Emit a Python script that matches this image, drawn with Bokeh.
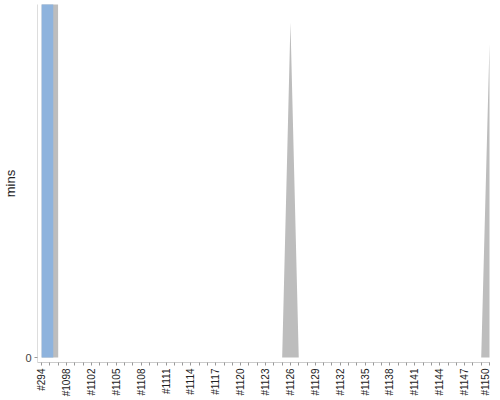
import math
from bokeh.plotting import figure
from bokeh.models import ColumnDataSource, FixedTicker, Range1d
from bokeh.embed import file_html
from bokeh.resources import INLINE

categories = ["#294", "#1095", "#1096", "#1098", "#1099", "#1101",
              "#1102", "#1103", "#1104", "#1105", "#1106", "#1107", "#1108",
              "#1109", "#1110", "#1111", "#1112", "#1113", "#1114", "#1115",
              "#1116", "#1117", "#1118", "#1119", "#1120", "#1121", "#1122",
              "#1123", "#1124", "#1125", "#1126", "#1127", "#1128", "#1129",
              "#1130", "#1131", "#1132", "#1133", "#1134", "#1135", "#1136",
              "#1137", "#1138", "#1139", "#1140", "#1141", "#1142", "#1143",
              "#1144", "#1145", "#1146", "#1147", "#1148", "#1149", "#1150"]

# total minutes (grey area) per build
total_mins = [5000, 5000] + [0] * 28 + [95] + [0] * 23 + [89]
# blue bar series
bar_mins = [5000] + [0] * 54

label_every = 3

idx = list(range(len(categories)))
src = ColumnDataSource(dict(x=idx, total=total_mins, bar=bar_mins,
                            zero=[0] * len(idx),
                            right=[i + 1.4 for i in idx]))

p = figure(frame_width=453, frame_height=358, output_backend="svg",
           toolbar_location=None,
           x_range=Range1d(-0.5, len(idx) - 1 + 0.12),
           y_range=Range1d(-1.4, 100),
           min_border_left=0, min_border_right=0, min_border_top=4,
           min_border_bottom=0)

p.varea(x="x", y1="zero", y2="total", source=src, fill_color="#bdbdbd")
p.quad(left="x", right="right", bottom="zero", top="bar", source=src,
       fill_color="#8eb3dd", line_color=None)

p.xgrid.visible = False
p.ygrid.visible = False
p.outline_line_color = None

xa = p.xaxis[0]
xa.ticker = FixedTicker(ticks=idx)
xa.major_label_overrides = {i: (categories[i] if i % label_every == 0 else "")
                            for i in idx}
xa.major_label_orientation = math.pi / 2
xa.major_label_text_font = "Liberation Sans"
xa.major_label_text_font_size = "10px"
xa.major_label_text_color = "#222222"
xa.major_label_standoff = 3
xa.major_tick_out = 3
xa.major_tick_in = 0
xa.axis_label_standoff = 0
xa.minor_tick_line_color = None
xa.major_tick_line_color = "#999999"
xa.axis_line_color = "#cccccc"

ya = p.yaxis[0]
ya.ticker = FixedTicker(ticks=[0])
ya.axis_label = "mins"
ya.axis_label_text_font = "Liberation Sans"
ya.axis_label_text_font_size = "13px"
ya.axis_label_text_font_style = "normal"
ya.axis_label_text_color = "#222222"
ya.axis_label_standoff = 4
ya.major_label_text_font = "Liberation Sans"
ya.major_label_text_font_size = "11px"
ya.major_label_text_color = "#444444"
ya.major_label_standoff = 3
ya.major_tick_out = 3
ya.major_tick_in = 0
ya.minor_tick_line_color = None
ya.major_tick_line_color = "#999999"
ya.axis_line_color = "#dddddd"

open("out.html", "w").write(file_html(p, INLINE))
